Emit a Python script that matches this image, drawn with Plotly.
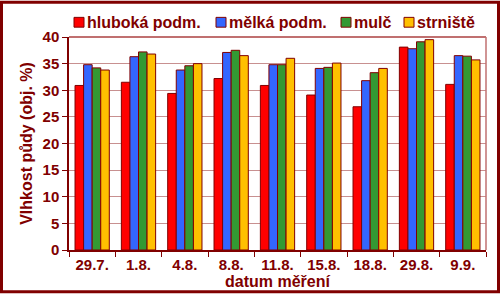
import plotly.graph_objects as go

categories = ["29.7.", "1.8.", "4.8.", "8.8.", "11.8.", "15.8.", "18.8.", "29.8.", "9.9."]
series_names = ["hluboká podm.", "mělká podm.", "mulč", "strniště"]
hluboka = [30.9, 31.5, 29.4, 32.2, 30.9, 29.1, 26.9, 38.1, 31.1]
melka = [34.8, 36.3, 33.8, 37.1, 34.8, 34.1, 31.8, 37.8, 36.5]
mulc = [34.2, 37.2, 34.6, 37.5, 34.8, 34.3, 33.3, 39.1, 36.4]
strniste = [33.8, 36.8, 35.0, 36.5, 36.0, 35.1, 34.1, 39.5, 35.7]
y_ticks = [0, 5, 10, 15, 20, 25, 30, 35, 40]

colors = ["#FF0000", "#3366FF", "#339933", "#FFC000"]
maroon = "#800000"
grid = "#C89090"
font = "Liberation Sans, Arial, sans-serif"

W, H = 500, 298
L, R, T, B = 69, 14, 37, 44
pw, ph = W - L - R, H - T - B


def px(x):
    return (x - L) / pw


def py(y):
    return (H - B - y) / ph


fig = go.Figure()
for name, vals, col in zip(series_names, [hluboka, melka, mulc, strniste], colors):
    fig.add_trace(go.Bar(
        x=categories, y=vals, name=name,
        marker=dict(color=col, line=dict(color=maroon, width=1)),
        showlegend=False,
    ))

shapes = []
annotations = []
# custom legend
leg_x = [74, 216, 341, 404]
for name, col, lx in zip(series_names, colors, leg_x):
    shapes.append(dict(type="rect", xref="paper", yref="paper",
                       x0=px(lx), x1=px(lx + 10), y0=py(27), y1=py(17),
                       fillcolor=col, line=dict(color=maroon, width=1)))
    annotations.append(dict(xref="paper", yref="paper", x=px(lx + 11), y=py(22),
                            text=f"<b>{name}</b>", showarrow=False, xanchor="left", yanchor="middle",
                            font=dict(family=font, size=16, color=maroon)))
# top and right plot border
shapes.append(dict(type="line", xref="paper", yref="paper", x0=0, x1=1, y0=1, y1=1,
                   line=dict(color="#C07070", width=2)))
shapes.append(dict(type="line", xref="paper", yref="paper", x0=1, x1=1, y0=0, y1=1,
                   line=dict(color="#C07070", width=1.5)))
# outer frame
shapes.append(dict(type="rect", xref="paper", yref="paper",
                   x0=px(1.5), x1=px(W - 1.5), y0=py(H - 1.5), y1=py(1.5),
                   line=dict(color=maroon, width=3)))

fig.update_layout(
    width=W, height=H,
    margin=dict(l=L, r=R, t=T, b=B),
    paper_bgcolor="white", plot_bgcolor="white",
    barmode="group", bargap=0.26, bargroupgap=0,
    font=dict(family=font, color=maroon, size=15),
    shapes=shapes, annotations=annotations,
    xaxis=dict(
        tickfont=dict(family=font, size=15, color=maroon),
        showline=True, linecolor=maroon, linewidth=1.5,
        ticks="outside", ticklen=5, tickcolor=maroon, tickson="boundaries",
        title=dict(text="<b>datum měření</b>", font=dict(size=16, color=maroon), standoff=2),
        tickprefix="<b>", ticksuffix="</b>",
    ),
    yaxis=dict(
        range=[0, 40], tickvals=y_ticks, ticktext=[f"<b>{v}</b>" for v in y_ticks],
        tickfont=dict(family=font, size=15, color=maroon),
        showline=True, linecolor=maroon, linewidth=1.5,
        ticks="outside", ticklen=5, tickcolor=maroon,
        showgrid=True, gridcolor=grid, gridwidth=1,
        title=dict(text="<b>Vlhkost půdy (obj. %)</b>", font=dict(size=16, color=maroon), standoff=6),
        zeroline=False,
    ),
)

fig.write_html("out.html")
